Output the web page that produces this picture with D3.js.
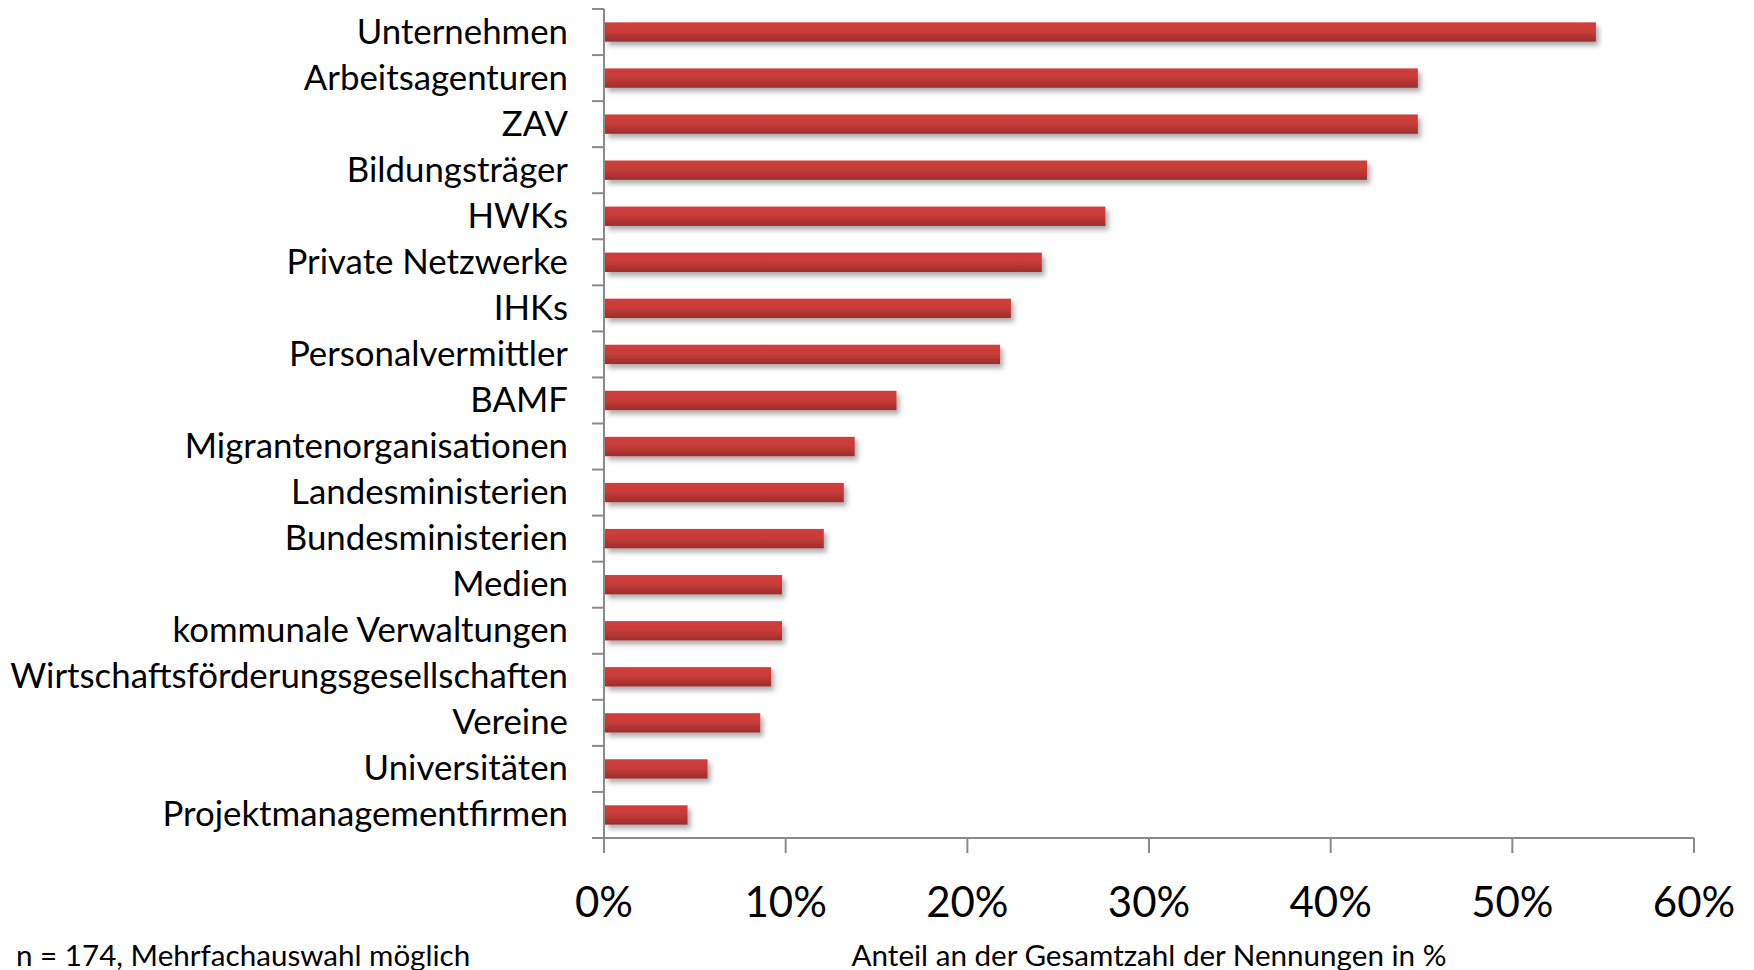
<!DOCTYPE html>
<html>
<head>
<meta charset="utf-8">
<script src="https://cdn.jsdelivr.net/npm/d3@7"></script>
<style>
  html, body { margin: 0; padding: 0; background: #fff; }
  svg { display: block; font-family: Lato, "Open Sans", sans-serif; }
</style>
</head>
<body>
<svg id="chart" width="1754" height="970"></svg>
<script>
// Kooperationspartner, Anteil an der Gesamtzahl der Nennungen (n = 174)
const categories = [
  "Unternehmen", "Arbeitsagenturen", "ZAV", "Bildungsträger", "HWKs",
  "Private Netzwerke", "IHKs", "Personalvermittler", "BAMF",
  "Migrantenorganisationen", "Landesministerien", "Bundesministerien",
  "Medien", "kommunale Verwaltungen", "Wirtschaftsförderungsgesellschaften",
  "Vereine", "Universitäten", "Projektmanagementfirmen"
];
const shares = [
  54.6, 44.8, 44.8, 42.0, 27.6,
  24.1, 22.4, 21.8, 16.1,
  13.8, 13.2, 12.1,
  9.8, 9.8, 9.2,
  8.6, 5.7, 4.6
];
const xTicks = [0, 10, 20, 30, 40, 50, 60];
const xTitle = "Anteil an der Gesamtzahl der Nennungen in %";
const note = "n = 174, Mehrfachauswahl möglich";

const data = categories.map((c, i) => ({ name: c, value: shares[i] }));

const svg = d3.select("#chart");
const plotLeft = 604, plotRight = 1694, plotTop = 9, plotBottom = 838;

const x = d3.scaleLinear().domain([0, 60]).range([plotLeft, plotRight]);
const y = d3.scaleBand().domain(categories).range([plotTop, plotBottom]).padding(0);
const barH = y.step() * 0.42;

const defs = svg.append("defs");
const grad = defs.append("linearGradient")
  .attr("id", "barFill").attr("x1", 0).attr("y1", 0).attr("x2", 0).attr("y2", 1);
grad.append("stop").attr("offset", "0%").attr("stop-color", "#cf3f3b");
grad.append("stop").attr("offset", "45%").attr("stop-color", "#c83c39");
grad.append("stop").attr("offset", "100%").attr("stop-color", "#9d2d2c");

const shadow = defs.append("filter").attr("id", "barShadow")
  .attr("x", "-5%").attr("y", "-30%").attr("width", "115%").attr("height", "190%");
shadow.append("feDropShadow")
  .attr("dx", 3).attr("dy", 4).attr("stdDeviation", 2.5)
  .attr("flood-color", "#000").attr("flood-opacity", 0.32);

// bars
svg.append("g").selectAll("rect").data(data).join("rect")
  .attr("x", x(0) + 1)
  .attr("y", d => y(d.name) + (y.step() - barH) / 2)
  .attr("width", d => x(d.value) - x(0) - 1)
  .attr("height", barH)
  .attr("fill", "url(#barFill)")
  .attr("filter", "url(#barShadow)");

const axisColor = "#8a8a8a";

// category axis
const yAxis = svg.append("g");
yAxis.append("line")
  .attr("x1", plotLeft).attr("x2", plotLeft).attr("y1", plotTop).attr("y2", plotBottom)
  .attr("stroke", axisColor).attr("stroke-width", 2);
const boundaries = categories.map(c => y(c)).concat([plotBottom]);
yAxis.selectAll("line.tick").data(boundaries).join("line")
  .attr("class", "tick")
  .attr("x1", plotLeft - 12).attr("x2", plotLeft)
  .attr("y1", d => d).attr("y2", d => d)
  .attr("stroke", axisColor).attr("stroke-width", 2);
yAxis.selectAll("text").data(categories).join("text")
  .attr("x", 568)
  .attr("y", d => y(d) + y.step() / 2 + 11.5)
  .attr("text-anchor", "end")
  .attr("font-size", 34.8)
  .attr("fill", "#000")
  .text(d => d);

// value axis
const xAxis = svg.append("g");
xAxis.append("line")
  .attr("x1", plotLeft).attr("x2", plotRight).attr("y1", plotBottom).attr("y2", plotBottom)
  .attr("stroke", axisColor).attr("stroke-width", 2);
xAxis.selectAll("line.tick").data(xTicks).join("line")
  .attr("class", "tick")
  .attr("x1", d => x(d)).attr("x2", d => x(d))
  .attr("y1", plotBottom).attr("y2", plotBottom + 15)
  .attr("stroke", axisColor).attr("stroke-width", 2);
xAxis.selectAll("text").data(xTicks).join("text")
  .attr("x", d => x(d))
  .attr("y", 917)
  .attr("text-anchor", "middle")
  .attr("font-size", 42)
  .attr("fill", "#000")
  .text(d => d + "%");

svg.append("text")
  .attr("x", (plotLeft + plotRight) / 2).attr("y", 966)
  .attr("text-anchor", "middle")
  .attr("font-size", 29.6)
  .attr("fill", "#000")
  .text(xTitle);

svg.append("text")
  .attr("x", 16).attr("y", 966)
  .attr("font-size", 29.6)
  .attr("fill", "#000")
  .text(note);
</script>
</body>
</html>
